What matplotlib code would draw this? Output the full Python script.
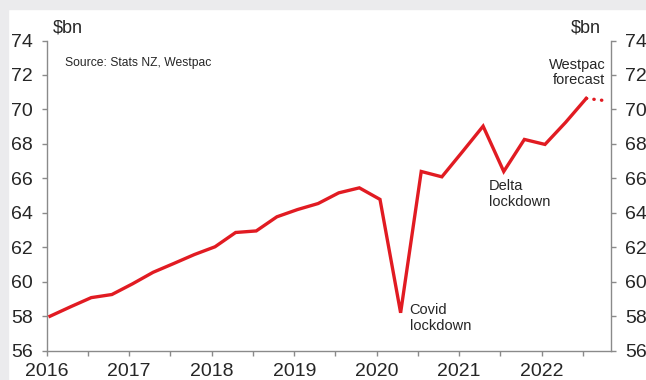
import matplotlib.pyplot as plt
from matplotlib.patches import Rectangle
from matplotlib.ticker import MultipleLocator

plt.rcParams['font.family'] = ['Liberation Sans', 'DejaVu Sans']

# NZ quarterly values, $bn
quarters = ['2016Q1', '2016Q2', '2016Q3', '2016Q4',
            '2017Q1', '2017Q2', '2017Q3', '2017Q4',
            '2018Q1', '2018Q2', '2018Q3', '2018Q4',
            '2019Q1', '2019Q2', '2019Q3', '2019Q4',
            '2020Q1', '2020Q2', '2020Q3', '2020Q4',
            '2021Q1', '2021Q2', '2021Q3', '2021Q4',
            '2022Q1', '2022Q2', '2022Q3']
actual = [58.0, 58.55, 59.08, 59.26,
          59.88, 60.55, 61.06, 61.58,
          62.03, 62.86, 62.95, 63.77,
          64.19, 64.54, 65.16, 65.45,
          64.78, 58.2, 66.4, 66.09,
          67.55, 69.03, 66.4, 68.26,
          67.97, 69.25, 70.64]
forecast_quarters = ['2022Q3', '2022Q4']
forecast = [70.64, 70.5]

year_ticks = [2016, 2017, 2018, 2019, 2020, 2021, 2022]
y_ticks = [56, 58, 60, 62, 64, 66, 68, 70, 72, 74]


def qpos(q):
    # mid-month of the quarter's first month
    return int(q[:4]) + (int(q[-1]) - 1) / 4 + 0.04


RED = '#e11b22'
GREY = '#8a8a8a'
TXT = '#262626'

fig = plt.figure(figsize=(6.46, 3.80), dpi=100, facecolor='white')
fig.patches.append(Rectangle((0, 1 - 9 / 380), 1, 9 / 380, transform=fig.transFigure,
                             color='#ebebed', zorder=0))
fig.patches.append(Rectangle((0, 0), 8 / 646, 1, transform=fig.transFigure,
                             color='#ebebed', zorder=0))

ax = fig.add_axes([0.0723, 0.0771, 0.8735, 0.8163])
ax.plot([qpos(q) for q in quarters], actual, color=RED, lw=2.4,
        solid_joinstyle='miter', zorder=3)
ax.plot([qpos(q) for q in forecast_quarters], forecast, color=RED, lw=2.4,
        linestyle=(0, (0.1, 2.2)), dash_capstyle='round', zorder=3)

ax.set_xlim(2016, 2022.84)
ax.set_ylim(56, 74)
ax.set_xticks(year_ticks)
ax.set_xticklabels([str(y) for y in year_ticks])
ax.xaxis.set_minor_locator(MultipleLocator(0.5))
ax.set_yticks(y_ticks)
ax.set_yticklabels([str(v) for v in y_ticks])

for side in ['left', 'right', 'bottom']:
    ax.spines[side].set_color(GREY)
    ax.spines[side].set_linewidth(1.0)
ax.spines['top'].set_visible(False)

ax.tick_params(axis='y', which='both', direction='out', length=3.6, width=1.0,
               color=GREY, labelsize=14, labelcolor=TXT, pad=6.5,
               left=True, right=True, labelleft=True, labelright=True)
ax.tick_params(axis='x', which='both', direction='out', length=3.6, width=1.0,
               color=GREY, labelsize=14, labelcolor=TXT, pad=5.5)

fig.text(53 / 646, 1 - 28 / 380, '$bn', fontsize=13, color=TXT, ha='left', va='center')
fig.text(601 / 646, 1 - 28 / 380, '$bn', fontsize=13, color=TXT, ha='right', va='center')

ax.text(2016.22, 72.7, 'Source: Stats NZ, Westpac', fontsize=8.7, color=TXT,
        ha='left', va='center')
ax.text(2022.77, 72.15, 'Westpac\nforecast', fontsize=10.5, color=TXT,
        ha='right', va='center', multialignment='right', linespacing=1.15)
ax.text(2020.40, 57.9, 'Covid\nlockdown', fontsize=10.5, color=TXT,
        ha='left', va='center', linespacing=1.15)
ax.text(2021.36, 65.1, 'Delta\nlockdown', fontsize=10.5, color=TXT,
        ha='left', va='center', linespacing=1.15)

fig.savefig('out.png', dpi=100)
